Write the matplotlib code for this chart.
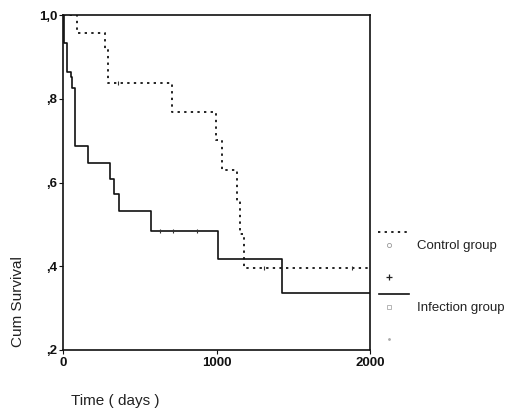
import numpy as np
import matplotlib
matplotlib.use('Agg')
import matplotlib.pyplot as plt
from matplotlib.ticker import FixedLocator

plt.rcParams['font.family'] = ['Liberation Sans', 'DejaVu Sans']

# Kaplan-Meier steps (days, cumulative survival)
ctrl_t = [0, 89, 274, 291, 712, 995, 1038, 1136, 1153, 1179]
ctrl_s = [1.0, 0.956, 0.917, 0.837, 0.768, 0.702, 0.631, 0.556, 0.476, 0.397]
ctrl_cens_t = [358, 1311, 1882]
ctrl_cens_s = [0.837, 0.397, 0.397]

inf_t = [0, 7, 24, 50, 61, 78, 165, 306, 334, 365, 573, 1010, 1425]
inf_s = [1.0, 0.933, 0.865, 0.853, 0.826, 0.686, 0.647, 0.609, 0.573, 0.533, 0.484, 0.417, 0.336]
inf_cens_t = [630, 715, 870]
inf_cens_s = [0.484, 0.484, 0.484]

t_end = 2000
yticks = [0.2, 0.4, 0.6, 0.8, 1.0]
ytick_labels = [',2', ',4', ',6', ',8', '1,0']
xticks = [0, 1000, 2000]
xtick_labels = ['0', '1000', '2000']

fig = plt.figure(figsize=(5.07, 4.11), dpi=100)
ax = fig.add_axes([63/507, 1 - 350/411, 307/507, 335/411])

ax.step(ctrl_t + [t_end], ctrl_s + [ctrl_s[-1]], where='post',
        color='#222222', linestyle=(0, (1.2, 2.2)), linewidth=1.4)
ax.step(inf_t + [t_end], inf_s + [inf_s[-1]], where='post',
        color='#111111', linewidth=1.2)
ax.plot(ctrl_cens_t, ctrl_cens_s, '|', color='#333333', markersize=3, mew=0.8)
ax.plot(inf_cens_t, inf_cens_s, '|', color='#333333', markersize=3, mew=0.8)

ax.set_xlim(0, t_end)
ax.set_ylim(0.2, 1.0)
ax.xaxis.set_major_locator(FixedLocator(xticks))
ax.set_xticklabels(xtick_labels)
ax.yaxis.set_major_locator(FixedLocator(yticks))
ax.set_yticklabels(ytick_labels)
for sp in ax.spines.values():
    sp.set_color('#111111')
    sp.set_linewidth(1.2)
ax.tick_params(axis='both', direction='out', length=3, width=0.8, colors='#111111',
               labelsize=9.5)
ax.tick_params(axis='y', pad=1)
ax.tick_params(axis='x', pad=2)
for lab in ax.get_xticklabels() + ax.get_yticklabels():
    lab.set_fontweight('bold')

fig.text(18/507, 1 - 302/411, 'Cum Survival', rotation=90, ha='center', va='center',
         fontsize=11, color='#222222')
fig.text(115/507, 1 - 401/411, 'Time ( days )', ha='center', va='center',
         fontsize=11, color='#222222')

# SPSS style legend to the right of the plot
lax = fig.add_axes([0, 0, 1, 1])
lax.set_xlim(0, 507)
lax.set_ylim(411, 0)
lax.axis('off')
lax.plot([378, 407], [231.7, 231.7], color='#222222', linestyle=(0, (1.2, 2.2)), linewidth=1.4)
lax.plot([389], [245], 'o', mfc='none', mec='#999999', markersize=3, mew=0.6)
lax.text(417, 246, 'Control group', ha='left', va='center', fontsize=9.5, color='#222222')
lax.plot([389], [276.7], '+', color='#222222', markersize=4, mew=0.9)
lax.plot([379, 409], [294, 294], color='#111111', linewidth=1.2)
lax.plot([389], [306.7], 's', mfc='none', mec='#aaaaaa', markersize=3, mew=0.6)
lax.text(417, 308, 'Infection group', ha='left', va='center', fontsize=9.5, color='#222222')
lax.plot([389], [339], '.', color='#aaaaaa', markersize=2)

fig.savefig('out.png', dpi=100)
